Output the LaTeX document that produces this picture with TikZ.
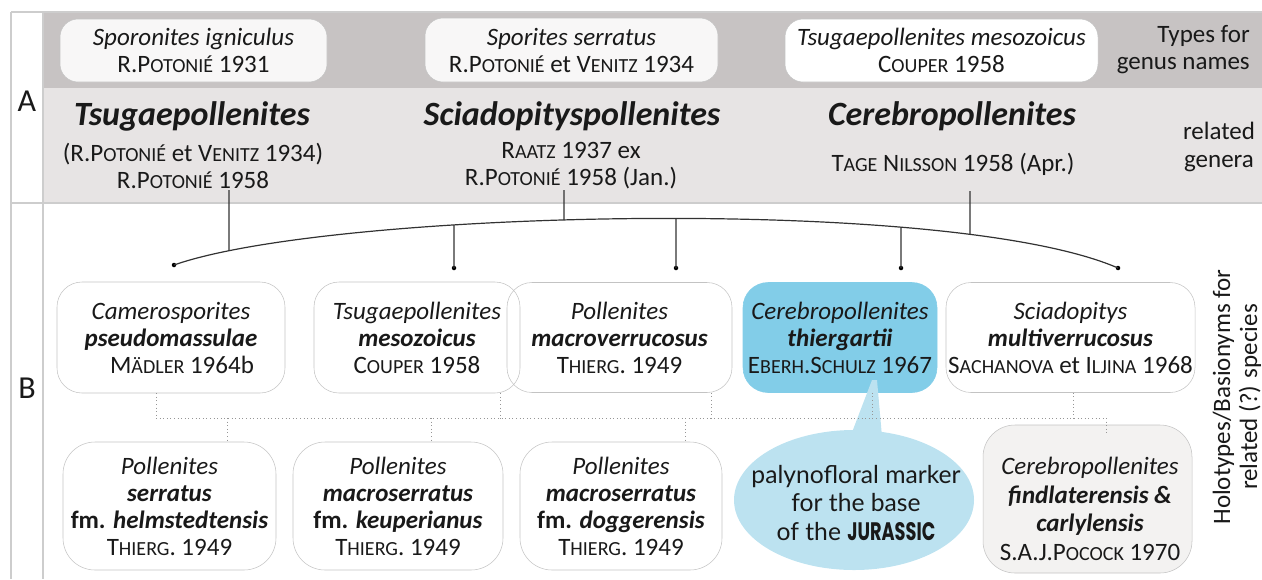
\documentclass[tikz,border=0pt]{standalone}
\usepackage{fontspec}
\usepackage{graphicx}
\setmainfont{Carlito}
\newfontfamily\bubblefont{Lato}
\newfontfamily\jurfont{Poppins}
\usetikzlibrary{intersections,shapes.geometric}
\newlength\px \setlength\px{0.75pt}
\newcommand\sm[1]{{\fontsize{15}{20}\selectfont #1}}
\newcommand\bodyfont{\fontsize{18.75}{20.25}\selectfont}
\newcommand\genfont{\fontsize{25.5}{28}\selectfont\bfseries\itshape}
\newcommand\bi[1]{\textbf{\textit{#1}}}
\definecolor{bandA}{RGB}{199,195,195}
\definecolor{bandB}{RGB}{231,228,228}
\definecolor{frameline}{RGB}{205,205,205}
\definecolor{boxline}{RGB}{195,195,195}
\definecolor{topfill}{RGB}{248,247,247}
\definecolor{blueA}{RGB}{130,205,232}
\definecolor{blueB}{RGB}{188,226,240}
\definecolor{grayfill}{RGB}{243,242,241}
\definecolor{txt}{RGB}{25,25,25}
\definecolor{dotline}{RGB}{150,150,150}
\definecolor{arcline}{RGB}{50,50,50}
\tikzset{
  lbl/.style={text=txt, inner sep=0pt, align=center, font=\bodyfont},
  tbox/.style={lbl, draw=boxline, fill=topfill, rounded corners=18\px},
  sbox/.style={lbl, draw=boxline, rounded corners=25\px},
  fbox/.style={lbl, draw=boxline, rounded corners=32\px},
  conn/.style={draw=arcline, line width=0.9pt},
  dotconn/.style={draw=dotline, line width=0.7pt, dotted},
  enddot/.style={circle, fill=black, inner sep=0pt, minimum size=4.5\px},
}
\begin{document}
\begin{tikzpicture}[x=0.75pt,y=-0.75pt]
\useasboundingbox (0,0) rectangle (1262,579);
% bands and frame
\fill[bandA] (43,12) rectangle (1262,88);
\fill[bandB] (43,88) rectangle (1262,203);
\draw[frameline, line width=0.8pt] (11,12) -- (1262,12);
\draw[frameline, line width=0.8pt] (11,12) -- (11,579);
\draw[frameline, line width=0.8pt] (43,12) -- (43,579);
\draw[frameline, line width=0.8pt] (11,203) -- (1262,203);
% section letters
\node[lbl, font=\fontsize{24}{26}\selectfont] (la) at (27,101) {A};
\node[lbl, font=\fontsize{24}{26}\selectfont] (lb) at (27,388) {B};
% top row: types
\node[tbox, minimum width=267\px, minimum height=63\px] (t1) at (193.5,50.5)
  {\textit{Sporonites igniculus}\\R.P\sm{OTONIÉ} 1931};
\node[tbox, minimum width=293\px, minimum height=64\px] (t2) at (571.5,50)
  {\textit{Sporites serratus}\\R.P\sm{OTONIÉ} et V\sm{ENITZ} 1934};
\node[tbox, fill=white, minimum width=313\px, minimum height=63\px] (t3) at (941.5,50.5)
  {\textit{Tsugaepollenites mesozoicus}\\C\sm{OUPER} 1958};
\node[lbl, align=right, anchor=east] (types) at (1250,50) {Types for\\genus names};
% genera
\node[lbl, font=\genfont] (g1) at (192,116) {Tsugaepollenites};
\node[lbl] (g1a) at (193,166) {(R.P\sm{OTONIÉ} et V\sm{ENITZ} 1934)\\R.P\sm{OTONIÉ} 1958};
\node[lbl, font=\genfont] (g2) at (572,116) {Sciadopityspollenites};
\node[lbl] (g2a) at (571,166) {R\sm{AATZ} 1937 ex\\R.P\sm{OTONIÉ} 1958 (Jan.)};
\node[lbl, font=\genfont] (g3) at (952,116) {Cerebropollenites};
\node[lbl] (g3a) at (953,164) {T\sm{AGE} N\sm{ILSSON} 1958 (Apr.)};
\node[lbl, font=\fontsize{18.75}{21.5}\selectfont] (rel) at (1219,147) {related\\genera};
% row B1 boxes
\node[sbox, minimum width=228\px, minimum height=111\px] (b1) at (171,337.5)
  {\textit{Camerosporites}\\\bi{pseudomassulae}\\\hspace*{22\px}M\sm{ÄDLER} 1964b};
\node[sbox, minimum width=206\px, minimum height=111\px] (b2) at (417,337.5)
  {\textit{Tsugaepollenites}\\\bi{mesozoicus}\\C\sm{OUPER} 1958};
\node[sbox, minimum width=225\px, minimum height=110\px] (b3) at (619.5,337.5)
  {\textit{Pollenites}\\\bi{macroverrucosus}\\T\sm{HIERG}. 1949};
\node[sbox, fill=blueA, draw=blueA, minimum width=194\px, minimum height=110\px] (b4) at (840,337.5)
  {\textit{Cerebropollenites}\\\bi{thiergartii}\\E\sm{BERH}.S\sm{CHULZ} 1967};
\node[sbox, minimum width=249\px, minimum height=110\px] (b5) at (1070.5,337.5)
  {\textit{Sciadopitys}\\\bi{multiverrucosus}\\S\sm{ACHANOVA} et I\sm{LJINA} 1968};
% row B2 boxes
\node[fbox, minimum width=213\px, minimum height=128\px] (c1) at (169.5,506)
  {\textit{Pollenites}\\\bi{serratus}\\\textbf{fm. \textit{helmstedtensis}}\\T\sm{HIERG}. 1949};
\node[fbox, minimum width=210\px, minimum height=128\px] (c2) at (398,506)
  {\textit{Pollenites}\\\bi{macroserratus}\\\textbf{fm. \textit{keuperianus}}\\T\sm{HIERG}. 1949};
\node[fbox, minimum width=202\px, minimum height=128\px] (c3) at (621,506)
  {\textit{Pollenites}\\\bi{macroserratus}\\\textbf{fm. \textit{doggerensis}}\\T\sm{HIERG}. 1949};
\node[fbox, fill=grayfill, minimum width=209\px, minimum height=148\px] (c4) at (1087.5,499) {};
\node[lbl, font=\fontsize{18.75}{21.4}\selectfont] (c4t) at (1090,509)
  {\textit{Cerebropollenites}\\\bi{findlaterensis \&}\\\bi{carlylensis}\\S.A.J.P\sm{OCOCK} 1970};
% callout bubble
\fill[blueB] (872,380) -- (877,380) -- (883,448) -- (846,448) -- cycle;
\node[ellipse, fill=blueB, minimum width=240\px, minimum height=140\px, inner sep=0pt] (bub) at (854,500) {};
\node[lbl, font=\bubblefont\fontsize{18.5}{21.5}\selectfont] (bubt) at (856,503)
  {palynofloral marker\\for the base\\of the \resizebox{88\px}{18\px}{\jurfont\bfseries JURASSIC}};
% right side label
\node[lbl, rotate=90] (holo) at (1237,397) {Holotypes/Basionyms for\\related (?) species};
% arc connectors
\node[enddot] (d1) at (174,265) {};
\node[enddot] (d2) at (454,268) {};
\node[enddot] (d3) at (676,268) {};
\node[enddot] (d4) at (901,268) {};
\node[enddot] (d5) at (1118,268) {};
\draw[conn, name path=arc] (d1.center) .. controls (330,210) and (950,195) .. (d5.center);
\coordinate (g1c) at (229,190);
\coordinate (g2c) at (564,190);
\coordinate (g3c) at (970,191);
\path[name path=v1] (229,150) -- (229,300);
\path[name path=v2] (564,150) -- (564,300);
\path[name path=v3] (970,150) -- (970,300);
\path[name path=w2] (454,150) -- (454,300);
\path[name path=w3] (676,150) -- (676,300);
\path[name path=w4] (901,150) -- (901,300);
\draw[conn, name intersections={of=arc and v1, by=i1}] (g1c) -- (i1);
\draw[conn, name intersections={of=arc and v2, by=i2}] (g2c) -- (i2);
\draw[conn, name intersections={of=arc and v3, by=i3}] (g3c) -- (i3);
\draw[conn, name intersections={of=arc and w2, by=j2}] (j2) -- (d2.center);
\draw[conn, name intersections={of=arc and w3, by=j3}] (j3) -- (d3.center);
\draw[conn, name intersections={of=arc and w4, by=j4}] (j4) -- (d4.center);
% dotted relation lines
\coordinate (h1) at (156,418);
\coordinate (h2) at (1106,418);
\coordinate (u2) at (500,422);
\coordinate (u3) at (711,418);
\coordinate (u4) at (872,418);
\coordinate (u5) at (1073,418);
\coordinate (e1) at (227,418);
\coordinate (e2) at (431,418);
\coordinate (e3) at (685,418);
\coordinate (e4) at (1106,433);
\draw[dotconn] (h1) -- (h2);
\draw[dotconn] (b1.south -| h1) -- (h1);
\draw[dotconn] (b2.south -| u2) -- (u2);
\draw[dotconn] (b3.south -| u3) -- (u3);
\draw[dotconn] (b4.south -| u4) -- (u4);
\draw[dotconn] (b5.south -| u5) -- (u5);
\draw[dotconn] (e1) -- (c1.north -| e1);
\draw[dotconn] (e2) -- (c2.north -| e2);
\draw[dotconn] (e3) -- (c3.north -| e3);
\draw[dotconn] (h2) -- (e4);
\end{tikzpicture}
\end{document}
